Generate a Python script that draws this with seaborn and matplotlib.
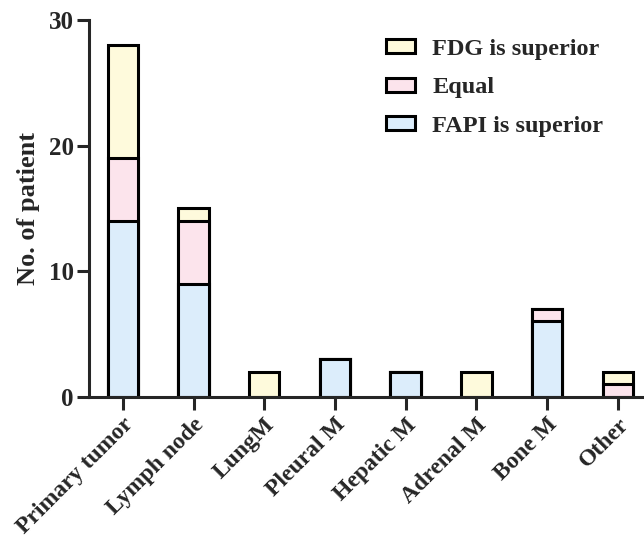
import numpy as np
import pandas as pd
import matplotlib
matplotlib.use("Agg")
import matplotlib.pyplot as plt
import seaborn as sns

categories = ["Primary tumor", "Lymph node", "LungM", "Pleural M",
              "Hepatic M", "Adrenal M", "Bone M", "Other"]
fapi = [14, 9, 0, 3, 2, 0, 6, 0]
equal = [5, 5, 0, 0, 0, 0, 1, 1]
fdg = [9, 1, 2, 0, 0, 2, 0, 1]

c_fdg = "#fefadc"
c_equal = "#fce4ec"
c_fapi = "#dcedfb"

sns.set_style("ticks")
plt.rcParams["font.family"] = ["Liberation Serif", "DejaVu Serif"]
plt.rcParams["font.weight"] = "bold"

df = pd.DataFrame({"cat": categories, "fapi": fapi, "equal": equal, "fdg": fdg})
df["fe"] = df["fapi"] + df["equal"]
df["total"] = df["fe"] + df["fdg"]

fig = plt.figure(figsize=(6.44, 5.37), dpi=100)
ax = fig.add_axes([0.138, 0.261, 0.862, 0.702])

lw = 2.2
w = 0.43
sns.barplot(data=df, x="cat", y="total", color=c_fdg, edgecolor="black",
            linewidth=lw, width=w, ax=ax, label="FDG is superior", saturation=1)
sns.barplot(data=df, x="cat", y="fe", color=c_equal, edgecolor="black",
            linewidth=lw, width=w, ax=ax, label="Equal", saturation=1)
sns.barplot(data=df, x="cat", y="fapi", color=c_fapi, edgecolor="black",
            linewidth=lw, width=w, ax=ax, label="FAPI is superior", saturation=1)

# hide zero-height bars
for p in ax.patches:
    if p.get_height() == 0:
        p.set_visible(False)

ax.set_xlim(-0.48, 7.37)
ax.set_ylim(0, 30)
ax.set_yticks([0, 10, 20, 30])
ax.set_xlabel("")
ax.set_ylabel("No. of patient", fontsize=19, fontweight="bold", labelpad=6)
ax.tick_params(axis="both", width=2.2, length=9)
ax.tick_params(axis="x", labelsize=17)
ax.tick_params(axis="y", labelsize=18, pad=2)
plt.setp(ax.get_xticklabels(), rotation=45, ha="right", rotation_mode="anchor",
         fontweight="bold")
plt.setp(ax.get_yticklabels(), fontweight="bold")
for s in ["left", "bottom"]:
    ax.spines[s].set_linewidth(2.2)
sns.despine(ax=ax)

leg = ax.legend(loc="upper left", bbox_to_anchor=(0.535, 0.95), frameon=False,
                prop={"weight": "bold", "size": 17.5}, handlelength=1.2,
                handleheight=0.5, labelspacing=0.72, handletextpad=0.7,
                borderpad=0, borderaxespad=0)

fig.savefig("out.png", dpi=100)
